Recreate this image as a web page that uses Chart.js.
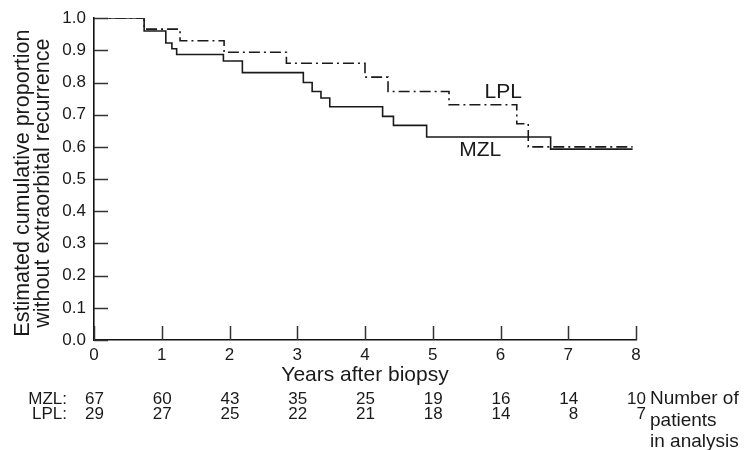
<!DOCTYPE html>
<html>
<head>
<meta charset="utf-8">
<script src="https://cdn.jsdelivr.net/npm/chart.js@4/dist/chart.umd.min.js"></script>
<style>
  body { margin: 0; background: #fff; }
  #wrap { width: 744px; height: 450px; }
</style>
</head>
<body>
<div id="wrap"><canvas id="km" width="744" height="450"></canvas></div>
<script>
// Kaplan-Meier steps (time in years, proportion)
const mzlTimes = [0, 0.74, 1.06, 1.15, 1.22, 1.91, 2.19, 3.09, 3.22, 3.35, 3.48, 4.26, 4.42, 4.91, 6.74, 7.95];
const mzlSurv  = [1.0, 0.96, 0.923, 0.905, 0.887, 0.867, 0.831, 0.80, 0.772, 0.752, 0.725, 0.695, 0.667, 0.631, 0.593, 0.593];

const lplTimes = [0, 0.74, 1.27, 1.92, 2.84, 4.0, 4.34, 5.24, 6.24, 6.41, 7.95];
const lplSurv  = [1.0, 0.966, 0.93, 0.894, 0.86, 0.817, 0.772, 0.731, 0.672, 0.60, 0.60];

// number at risk table
const riskYears = [0, 1, 2, 3, 4, 5, 6, 7, 8];
const mzlRisk = [67, 60, 43, 35, 25, 19, 16, 14, 10];
const lplRisk = [29, 27, 25, 22, 21, 18, 14, 8, 7];

const xTicks = [0, 1, 2, 3, 4, 5, 6, 7, 8];
const yTicks = [0, 0.1, 0.2, 0.3, 0.4, 0.5, 0.6, 0.7, 0.8, 0.9, 1.0];

const FONT = "'Liberation Sans', Arial, Helvetica, sans-serif";
const INK = '#1a1a1a';

function toPoints(ts, vs) {
    return ts.map((t, i) => ({ x: t, y: vs[i] }));
}

// inward tick marks, axis titles, curve labels and the risk table
const extras = {
    id: 'extras',
    afterDraw(chart) {
        const { ctx, scales: { x, y } } = chart;
        ctx.save();
        ctx.strokeStyle = '#333';
        ctx.lineWidth = 1.5;
        ctx.beginPath();
        yTicks.forEach(v => {
            const py = Math.round(y.getPixelForValue(v)) + 0.5;
            ctx.moveTo(x.left, py);
            ctx.lineTo(x.left + 14, py);
        });
        xTicks.forEach(t => {
            const px = Math.round(x.getPixelForValue(t)) + 0.5;
            ctx.moveTo(px, y.bottom);
            ctx.lineTo(px, y.bottom - 14);
        });
        ctx.stroke();

        ctx.fillStyle = INK;
        ctx.textBaseline = 'middle';

        // y title
        ctx.save();
        ctx.translate(23, (y.top + y.bottom) / 2 + 4);
        ctx.rotate(-Math.PI / 2);
        ctx.textAlign = 'center';
        ctx.font = `21.5px ${FONT}`;
        ctx.fillText('Estimated cumulative proportion', 0, 0);
        ctx.fillText('without extraorbital recurrence', 0, 20);
        ctx.restore();

        // x title
        ctx.textAlign = 'center';
        ctx.font = `21px ${FONT}`;
        ctx.fillText('Years after biopsy', (x.left + x.right) / 2, 375);

        // curve labels
        ctx.fillText('LPL', x.getPixelForValue(6.04), y.getPixelForValue(0.77));
        ctx.fillText('MZL', x.getPixelForValue(5.70), y.getPixelForValue(0.59));

        // risk table
        ctx.font = `17px ${FONT}`;
        ctx.textAlign = 'right';
        ctx.fillText('MZL:', 67, 399);
        ctx.fillText('LPL:', 67, 414);
        riskYears.forEach((t, i) => {
            const px = x.getPixelForValue(t) + 10;
            ctx.fillText(String(mzlRisk[i]), px, 399);
            ctx.fillText(String(lplRisk[i]), px, 414);
        });

        ctx.textAlign = 'left';
        ctx.font = `19px ${FONT}`;
        ctx.fillText('Number of', 650, 399);
        ctx.fillText('patients', 650, 421);
        ctx.fillText('in analysis', 650, 442);
        ctx.restore();
    }
};

const config = {
    type: 'line',
    data: {
        datasets: [
            {
                label: 'MZL',
                data: toPoints(mzlTimes, mzlSurv),
                stepped: 'before',
                borderColor: INK,
                borderWidth: 1.6,
                pointRadius: 0,
                fill: false
            },
            {
                label: 'LPL',
                data: toPoints(lplTimes, lplSurv),
                stepped: 'before',
                borderColor: INK,
                borderWidth: 1.6,
                borderDash: [11, 4, 2, 4],
                pointRadius: 0,
                fill: false
            }
        ]
    },
    options: {
        responsive: false,
        animation: false,
        layout: { padding: { left: 0, right: 108, top: 15, bottom: 0 } },
        plugins: {
            legend: { display: false },
            tooltip: { enabled: false }
        },
        scales: {
            x: {
                type: 'linear',
                min: 0,
                max: 8,
                afterFit: s => { s.height = 110; },
                afterBuildTicks: s => { s.ticks = xTicks.map(v => ({ value: v })); },
                ticks: {
                    color: INK,
                    font: { size: 17, family: FONT },
                    padding: 5,
                    maxRotation: 0,
                    callback: v => String(v)
                },
                grid: { display: false, drawTicks: false },
                border: { display: true, color: '#111', width: 1.6 }
            },
            y: {
                min: 0,
                max: 1,
                afterFit: s => { s.width = 94; },
                afterBuildTicks: s => { s.ticks = yTicks.map(v => ({ value: v })); },
                ticks: {
                    color: INK,
                    font: { size: 17, family: FONT },
                    padding: 8,
                    callback: v => Number(v).toFixed(1)
                },
                grid: { display: false, drawTicks: false },
                border: { display: true, color: '#111', width: 1.6 }
            }
        }
    },
    plugins: [extras]
};

new Chart(document.getElementById('km').getContext('2d'), config);
</script>
</body>
</html>
